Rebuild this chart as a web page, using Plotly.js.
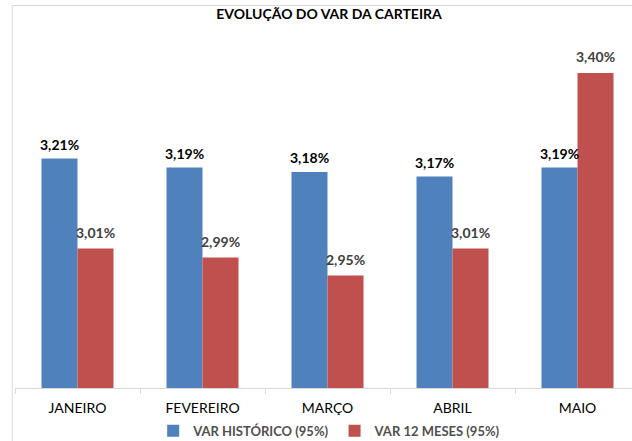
<!DOCTYPE html>
<html>
<head>
<meta charset="utf-8">
<script src="https://cdn.plot.ly/plotly-3.0.1.min.js"></script>
<style>html,body{margin:0;padding:0;background:#fff;}#chart{width:632px;height:441px;}</style>
</head>
<body>
<div id="chart"></div>
<script>
const categories = ["JANEIRO", "FEVEREIRO", "MARÇO", "ABRIL", "MAIO"];
const varHistorico = [3.21, 3.19, 3.18, 3.17, 3.19];
const var12Meses = [3.01, 2.99, 2.95, 3.01, 3.40];
const seriesNames = ["VAR HISTÓRICO (95%)", "VAR 12 MESES (95%)"];

const FONT = "Lato, 'Open Sans', sans-serif";
const fmt = v => v.toFixed(2).replace('.', ',') + '%';

const traces = [
  {type: 'bar', name: '<b>' + seriesNames[0] + '</b>', x: categories, y: varHistorico,
   marker: {color: '#4F81BD'}, hoverinfo: 'none'},
  {type: 'bar', name: '<b>' + seriesNames[1] + '</b>', x: categories, y: var12Meses,
   marker: {color: '#C0504D'}, hoverinfo: 'none'}
];

const annotations = [];
categories.forEach((c, i) => {
  annotations.push({x: c, y: varHistorico[i], xref: 'x', yref: 'y', text: '<b>' + fmt(varHistorico[i]) + '</b>',
    showarrow: false, xshift: -18, yanchor: 'bottom', yshift: 4,
    font: {family: FONT, size: 14, color: '#000000'}});
  annotations.push({x: c, y: var12Meses[i], xref: 'x', yref: 'y', text: '<b>' + fmt(var12Meses[i]) + '</b>',
    showarrow: false, xshift: 18, yanchor: 'bottom', yshift: 6,
    font: {family: FONT, size: 14, color: '#404040'}});
});

const layout = {
  width: 632, height: 441,
  margin: {l: 15, r: 0, t: 28, b: 53, autoexpand: false},
  paper_bgcolor: '#ffffff', plot_bgcolor: '#ffffff',
  font: {family: FONT, color: '#000'},
  title: {text: '<b>EVOLUÇÃO DO VAR DA CARTEIRA</b>', x: 0.509, xref: 'paper', xanchor: 'center',
          y: 18, yref: 'container', yanchor: 'middle', automargin: false,
          font: {family: FONT, size: 14, color: '#000'}},
  barmode: 'group', bargap: 0.424, bargroupgap: 0,
  showlegend: true,
  legend: {orientation: 'h', x: 0.51, xanchor: 'center', y: -0.119, yanchor: 'middle',
           font: {family: FONT, size: 13, color: '#505050', weight: 'bold'},
           itemwidth: 30, tracegroupgap: 0},
  xaxis: {type: 'category', range: [-0.5, 4.436], fixedrange: true, automargin: false,
          showline: true, linecolor: '#D9D9D9', linewidth: 1,
          ticks: 'outside', tickson: 'boundaries', ticklen: 5, tickcolor: '#D9D9D9',
          ticklabelstandoff: 7,
          tickfont: {family: FONT, size: 14, color: '#000'}, showgrid: false, zeroline: false},
  yaxis: {range: [2.7, 3.5], visible: false, showgrid: false, zeroline: false, fixedrange: true, automargin: false},
  annotations: annotations,
  shapes: [
    {type: 'line', xref: 'paper', yref: 'paper', x0: -0.0045, x1: 1.1, y0: 1.0625, y1: 1.0625,
     line: {color: '#D9D9D9', width: 1}},
    {type: 'line', xref: 'paper', yref: 'paper', x0: -0.0045, x1: -0.0045, y0: 1.0625, y1: -0.2,
     line: {color: '#D9D9D9', width: 1}}
  ]
};

Plotly.newPlot('chart', traces, layout, {displayModeBar: false, staticPlot: true});
</script>
</body>
</html>
